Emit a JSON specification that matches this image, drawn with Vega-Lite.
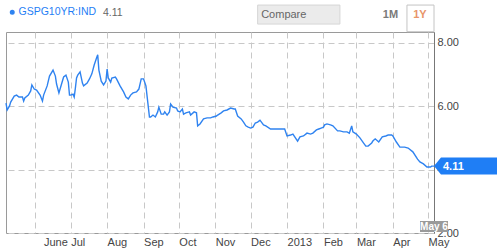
{
  "$schema": "https://vega.github.io/schema/vega-lite/v6.json",
  "autosize": "none",
  "width": 428,
  "height": 201,
  "padding": {"left": 6, "top": 32, "right": 66, "bottom": 18},
  "background": "white",
  "config": {
    "font": "Liberation Sans",
    "view": {"stroke": "#9a9a9a", "strokeWidth": 1},
    "axisX": {"labelOverlap": false, "tickCount": 30},
    "axisY": {"labelOverlap": false}
  },
  "datasets": {
    "series": [
      {"date": "2012-05-07", "value": 6.10}, {"date": "2012-05-08", "value": 5.88}, {"date": "2012-05-10", "value": 6.01},
      {"date": "2012-05-11", "value": 6.13}, {"date": "2012-05-14", "value": 6.32}, {"date": "2012-05-16", "value": 6.35},
      {"date": "2012-05-18", "value": 6.29}, {"date": "2012-05-21", "value": 6.29}, {"date": "2012-05-22", "value": 6.16},
      {"date": "2012-05-23", "value": 6.26}, {"date": "2012-05-26", "value": 6.35}, {"date": "2012-05-28", "value": 6.48},
      {"date": "2012-05-29", "value": 6.67}, {"date": "2012-05-31", "value": 6.54}, {"date": "2012-06-02", "value": 6.51},
      {"date": "2012-06-05", "value": 6.35}, {"date": "2012-06-07", "value": 6.16}, {"date": "2012-06-08", "value": 6.35},
      {"date": "2012-06-11", "value": 6.64}, {"date": "2012-06-13", "value": 6.95}, {"date": "2012-06-16", "value": 7.14},
      {"date": "2012-06-18", "value": 6.95}, {"date": "2012-06-19", "value": 6.70}, {"date": "2012-06-21", "value": 6.42},
      {"date": "2012-06-23", "value": 6.67}, {"date": "2012-06-25", "value": 6.92}, {"date": "2012-06-27", "value": 6.98},
      {"date": "2012-06-29", "value": 6.76}, {"date": "2012-06-30", "value": 6.35}, {"date": "2012-07-01", "value": 6.35},
      {"date": "2012-07-03", "value": 6.38}, {"date": "2012-07-04", "value": 6.29}, {"date": "2012-07-05", "value": 6.57},
      {"date": "2012-07-06", "value": 6.89}, {"date": "2012-07-07", "value": 6.98}, {"date": "2012-07-09", "value": 7.08},
      {"date": "2012-07-11", "value": 6.73}, {"date": "2012-07-12", "value": 6.64}, {"date": "2012-07-15", "value": 6.73},
      {"date": "2012-07-17", "value": 6.86}, {"date": "2012-07-19", "value": 7.02}, {"date": "2012-07-21", "value": 7.30},
      {"date": "2012-07-23", "value": 7.52}, {"date": "2012-07-24", "value": 7.62}, {"date": "2012-07-25", "value": 7.14},
      {"date": "2012-07-27", "value": 6.79}, {"date": "2012-07-29", "value": 6.67}, {"date": "2012-07-31", "value": 6.79},
      {"date": "2012-08-01", "value": 7.17}, {"date": "2012-08-02", "value": 6.89}, {"date": "2012-08-04", "value": 6.76},
      {"date": "2012-08-05", "value": 6.89}, {"date": "2012-08-08", "value": 6.92}, {"date": "2012-08-09", "value": 6.86},
      {"date": "2012-08-12", "value": 6.64}, {"date": "2012-08-15", "value": 6.45}, {"date": "2012-08-17", "value": 6.29},
      {"date": "2012-08-19", "value": 6.23}, {"date": "2012-08-21", "value": 6.35}, {"date": "2012-08-23", "value": 6.42},
      {"date": "2012-08-26", "value": 6.45}, {"date": "2012-08-28", "value": 6.54}, {"date": "2012-08-30", "value": 6.86},
      {"date": "2012-09-01", "value": 6.86}, {"date": "2012-09-03", "value": 6.64}, {"date": "2012-09-06", "value": 5.66},
      {"date": "2012-09-07", "value": 5.66}, {"date": "2012-09-09", "value": 5.72}, {"date": "2012-09-11", "value": 5.66},
      {"date": "2012-09-13", "value": 5.82}, {"date": "2012-09-14", "value": 5.97}, {"date": "2012-09-16", "value": 5.75},
      {"date": "2012-09-18", "value": 5.75}, {"date": "2012-09-19", "value": 5.82}, {"date": "2012-09-21", "value": 5.72},
      {"date": "2012-09-23", "value": 5.82}, {"date": "2012-09-24", "value": 6.07}, {"date": "2012-09-26", "value": 5.97},
      {"date": "2012-09-29", "value": 5.94}, {"date": "2012-09-30", "value": 5.85}, {"date": "2012-10-02", "value": 5.82},
      {"date": "2012-10-04", "value": 5.91}, {"date": "2012-10-05", "value": 5.75}, {"date": "2012-10-07", "value": 5.79},
      {"date": "2012-10-10", "value": 5.82}, {"date": "2012-10-11", "value": 5.72}, {"date": "2012-10-14", "value": 5.82},
      {"date": "2012-10-16", "value": 5.79}, {"date": "2012-10-17", "value": 5.38}, {"date": "2012-10-19", "value": 5.44},
      {"date": "2012-10-22", "value": 5.60}, {"date": "2012-10-25", "value": 5.63}, {"date": "2012-10-28", "value": 5.63},
      {"date": "2012-10-30", "value": 5.66}, {"date": "2012-11-02", "value": 5.69}, {"date": "2012-11-03", "value": 5.72},
      {"date": "2012-11-06", "value": 5.79}, {"date": "2012-11-08", "value": 5.85}, {"date": "2012-11-11", "value": 5.88},
      {"date": "2012-11-14", "value": 5.94}, {"date": "2012-11-17", "value": 5.91}, {"date": "2012-11-18", "value": 5.91},
      {"date": "2012-11-20", "value": 5.69}, {"date": "2012-11-23", "value": 5.60}, {"date": "2012-11-25", "value": 5.50},
      {"date": "2012-11-27", "value": 5.38}, {"date": "2012-11-29", "value": 5.34}, {"date": "2012-12-01", "value": 5.31},
      {"date": "2012-12-03", "value": 5.34}, {"date": "2012-12-05", "value": 5.47}, {"date": "2012-12-07", "value": 5.50},
      {"date": "2012-12-09", "value": 5.56}, {"date": "2012-12-12", "value": 5.41}, {"date": "2012-12-14", "value": 5.38},
      {"date": "2012-12-18", "value": 5.28}, {"date": "2012-12-21", "value": 5.28}, {"date": "2012-12-25", "value": 5.28},
      {"date": "2012-12-30", "value": 5.28}, {"date": "2013-01-01", "value": 5.06}, {"date": "2013-01-04", "value": 5.09},
      {"date": "2013-01-06", "value": 5.12}, {"date": "2013-01-10", "value": 4.90}, {"date": "2013-01-12", "value": 5.03},
      {"date": "2013-01-15", "value": 5.06}, {"date": "2013-01-18", "value": 5.15}, {"date": "2013-01-21", "value": 5.12},
      {"date": "2013-01-23", "value": 5.15}, {"date": "2013-01-26", "value": 5.25}, {"date": "2013-01-28", "value": 5.28},
      {"date": "2013-01-30", "value": 5.31}, {"date": "2013-02-01", "value": 5.34}, {"date": "2013-02-02", "value": 5.41},
      {"date": "2013-02-04", "value": 5.44}, {"date": "2013-02-07", "value": 5.41}, {"date": "2013-02-09", "value": 5.38},
      {"date": "2013-02-13", "value": 5.22}, {"date": "2013-02-15", "value": 5.22}, {"date": "2013-02-18", "value": 5.19},
      {"date": "2013-02-21", "value": 5.19}, {"date": "2013-02-23", "value": 5.15}, {"date": "2013-02-25", "value": 5.38},
      {"date": "2013-02-26", "value": 5.19}, {"date": "2013-03-01", "value": 5.12}, {"date": "2013-03-04", "value": 5.00},
      {"date": "2013-03-07", "value": 4.84}, {"date": "2013-03-09", "value": 4.74}, {"date": "2013-03-11", "value": 4.74},
      {"date": "2013-03-14", "value": 4.84}, {"date": "2013-03-15", "value": 4.90}, {"date": "2013-03-17", "value": 4.97},
      {"date": "2013-03-20", "value": 4.87}, {"date": "2013-03-23", "value": 5.03}, {"date": "2013-03-26", "value": 5.06},
      {"date": "2013-03-28", "value": 5.09}, {"date": "2013-03-31", "value": 5.09}, {"date": "2013-04-01", "value": 5.06},
      {"date": "2013-04-04", "value": 4.87}, {"date": "2013-04-07", "value": 4.71}, {"date": "2013-04-11", "value": 4.71},
      {"date": "2013-04-14", "value": 4.68}, {"date": "2013-04-18", "value": 4.56}, {"date": "2013-04-22", "value": 4.33},
      {"date": "2013-04-24", "value": 4.24}, {"date": "2013-04-27", "value": 4.18}, {"date": "2013-04-30", "value": 4.08},
      {"date": "2013-05-03", "value": 4.08}, {"date": "2013-05-04", "value": 4.11}, {"date": "2013-05-06", "value": 4.11}
    ],
    "last": [{"date": "2013-05-06", "value": 4.11, "label": "4.11", "dlabel": "May 6", "floor": 2.0}]
  },
  "layer": [
    {
      "data": {"name": "series"},
      "mark": {"type": "line", "strokeWidth": 1.4, "interpolate": "linear"},
      "encoding": {
        "x": {
          "field": "date", "type": "temporal",
          "scale": {"type": "utc", "domain": [{"year": 2012, "month": 5, "date": 7, "utc": true}, {"year": 2013, "month": 5, "date": 6, "utc": true}]},
          "axis": {
            "title": null,
            "tickCount": 30,
            "values": [
              {"year": 2012, "month": 6, "date": 1, "utc": true}, {"year": 2012, "month": 7, "date": 1, "utc": true},
              {"year": 2012, "month": 8, "date": 1, "utc": true}, {"year": 2012, "month": 9, "date": 1, "utc": true},
              {"year": 2012, "month": 10, "date": 1, "utc": true}, {"year": 2012, "month": 11, "date": 1, "utc": true},
              {"year": 2012, "month": 12, "date": 1, "utc": true}, {"year": 2013, "month": 1, "date": 1, "utc": true},
              {"year": 2013, "month": 2, "date": 1, "utc": true}, {"year": 2013, "month": 3, "date": 1, "utc": true},
              {"year": 2013, "month": 4, "date": 1, "utc": true}, {"year": 2013, "month": 5, "date": 1, "utc": true}
            ],
            "labelExpr": "utcmonth(datum.value)==0 ? utcFormat(datum.value,'%Y') : (utcmonth(datum.value)==5 ? 'June' : utcFormat(datum.value,'%b'))",
            "labelAlign": "left",
            "labelOffset": {"condition": {"test": "utcmonth(datum.value)==5", "value": 8}, "value": 0},
            "labelBaseline": "top",
            "labelPadding": 3,
            "labelFontSize": 11,
            "labelColor": "#444",
            "labelFont": "Liberation Sans",
            "labelOverlap": false,
            "labelFlush": false,
            "ticks": false,
            "domain": false,
            "grid": true,
            "gridColor": "#c8c8c8",
            "gridDash": [6, 4],
            "gridWidth": 1
          }
        },
        "y": {
          "field": "value", "type": "quantitative",
          "scale": {"domain": [2, 8.34], "nice": false, "zero": false},
          "axis": {
            "title": null,
            "orient": "right",
            "values": [2, 4, 6, 8],
            "format": ".2f",
            "labelAlign": "left",
            "labelPadding": 3,
            "labelFontSize": 11,
            "labelColor": "#444",
            "labelFont": "Liberation Sans",
            "labelFlush": false,
            "labelOverlap": false,
            "ticks": false,
            "domain": true,
            "domainColor": "#777",
            "grid": true,
            "gridColor": "#c8c8c8",
            "gridDash": [6, 4],
            "gridWidth": 1
          }
        },
        "color": {
          "datum": "GSPG10YR:IND",
          "type": "nominal",
          "scale": {"range": ["#2f83f0"]},
          "legend": {
            "orient": "none",
            "legendX": 1,
            "legendY": -25,
            "padding": 0,
            "title": "4.11",
            "titleOrient": "right",
            "titleColor": "#666",
            "titleFontWeight": "normal",
            "titleFontSize": 10.5,
            "titleFont": "Liberation Sans",
            "titlePadding": 7,
            "labelColor": "#1f7ef5",
            "labelFontSize": 10.5,
            "labelFont": "Liberation Sans",
            "labelOffset": 1,
            "symbolType": "circle",
            "symbolSize": 4,
            "symbolStrokeWidth": 3,
            "symbolStrokeColor": "#1f7ef5",
            "symbolFillColor": "#1f7ef5"
          }
        }
      }
    },
    {
      "data": {"name": "last"},
      "mark": {"type": "point", "filled": true, "shape": "M0,0L0.7,-0.85L6.3,-0.85L6.3,0.85L0.7,0.85Z", "size": 400, "color": "#1f7ef5", "opacity": 1, "strokeWidth": 0},
      "encoding": {
        "x": {"field": "date", "type": "temporal"},
        "y": {"field": "value", "type": "quantitative"}
      }
    },
    {
      "data": {"name": "last"},
      "mark": {"type": "text", "align": "left", "baseline": "middle", "dx": 9, "dy": 1, "fontWeight": "bold", "fontSize": 11, "color": "white", "font": "Liberation Sans"},
      "encoding": {
        "x": {"field": "date", "type": "temporal"},
        "y": {"field": "value", "type": "quantitative"},
        "text": {"field": "label"}
      }
    },
    {
      "data": {"name": "last"},
      "mark": {"type": "point", "filled": true, "shape": "M-1.4,-1.2L1.4,-1.2L1.4,-0.1L-1.4,-0.1Z", "size": 400, "color": "#9a9a9a", "opacity": 1, "strokeWidth": 0},
      "encoding": {
        "x": {"field": "date", "type": "temporal"},
        "y": {"field": "floor", "type": "quantitative"}
      }
    },
    {
      "data": {"name": "last"},
      "mark": {"type": "text", "align": "center", "baseline": "middle", "dy": -6, "fontWeight": "bold", "fontSize": 10, "color": "white", "font": "Liberation Sans"},
      "encoding": {
        "x": {"field": "date", "type": "temporal"},
        "y": {"field": "floor", "type": "quantitative"},
        "text": {"field": "dlabel"}
      }
    },
    {
      "data": {"values": [{}]},
      "mark": {"type": "rect", "fill": "#ebebeb", "stroke": "#d6d6d6", "strokeWidth": 1},
      "encoding": {
        "x": {"datum": {"year": 2012, "month": 12, "date": 7, "utc": true}, "type": "temporal"},
        "x2": {"datum": {"year": 2013, "month": 2, "date": 15, "utc": true}},
        "y": {"datum": 9.19, "type": "quantitative"},
        "y2": {"datum": 8.59}
      }
    },
    {
      "data": {"values": [{}]},
      "mark": {"type": "text", "align": "left", "baseline": "middle", "fontSize": 11, "color": "#666", "font": "Liberation Sans", "text": "Compare"},
      "encoding": {
        "x": {"datum": {"year": 2012, "month": 12, "date": 10, "utc": true}, "type": "temporal"},
        "y": {"datum": 8.89, "type": "quantitative"}
      }
    },
    {
      "data": {"values": [{}]},
      "mark": {"type": "text", "align": "center", "baseline": "middle", "fontSize": 11, "fontWeight": "bold", "color": "#7a7a7a", "font": "Liberation Sans", "text": "1M"},
      "encoding": {
        "x": {"datum": {"year": 2013, "month": 3, "date": 30, "utc": true}, "type": "temporal"},
        "y": {"datum": 8.89, "type": "quantitative"}
      }
    },
    {
      "data": {"values": [{}]},
      "mark": {"type": "rect", "fill": "white", "stroke": "#c4c4c4", "strokeWidth": 1},
      "encoding": {
        "x": {"datum": {"year": 2013, "month": 4, "date": 13, "utc": true}, "type": "temporal"},
        "x2": {"datum": {"year": 2013, "month": 5, "date": 6, "utc": true}},
        "y": {"datum": 9.19, "type": "quantitative"},
        "y2": {"datum": 8.35}
      }
    },
    {
      "data": {"values": [{}]},
      "mark": {"type": "text", "align": "center", "baseline": "middle", "fontSize": 11, "fontWeight": "bold", "color": "#e8956a", "font": "Liberation Sans", "text": "1Y"},
      "encoding": {
        "x": {"datum": {"year": 2013, "month": 4, "date": 24, "utc": true}, "type": "temporal"},
        "y": {"datum": 8.89, "type": "quantitative"}
      }
    }
  ]
}
